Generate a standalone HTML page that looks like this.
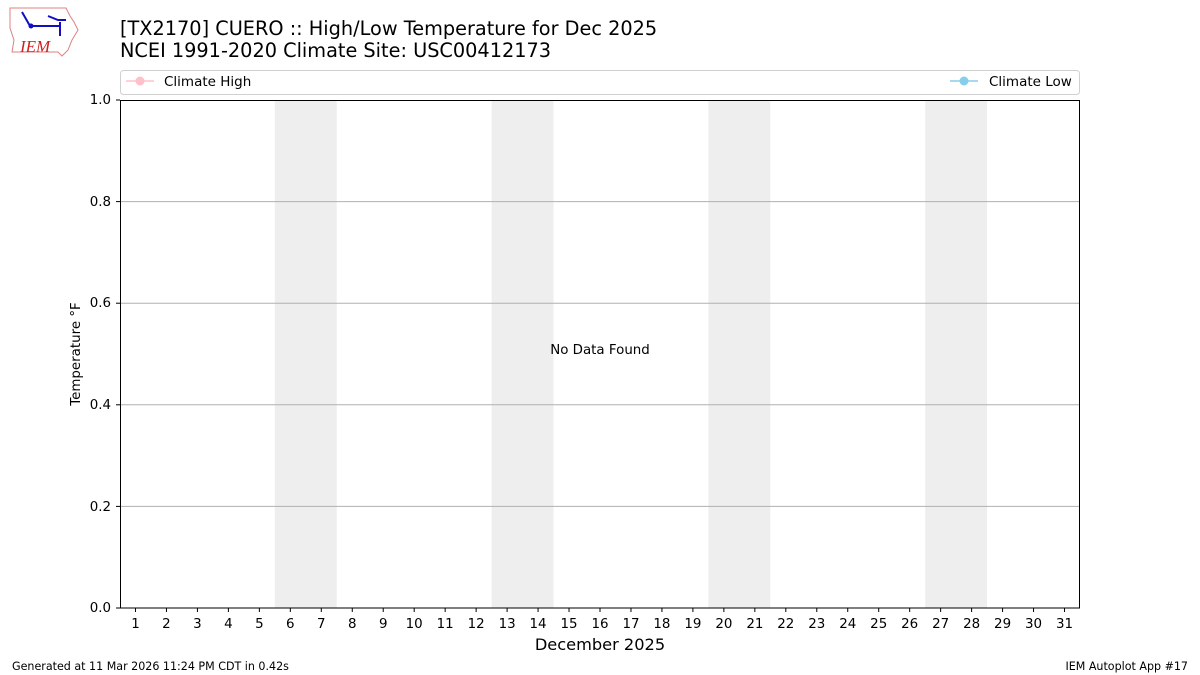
<!DOCTYPE html>
<html><head><style>body{margin:0;background:#fff}svg{display:block}</style></head>
<body>
<svg width="1200" height="675" xmlns="http://www.w3.org/2000/svg" font-family="DejaVu Sans, Liberation Sans, sans-serif">
<rect width="1200" height="675" fill="#fff"/>
<path d="M10 8 L66 8 L70 16 L74 22 L78 30 L72 40 L68 50 L62 56 L58 52 L12 52 L14 40 L10 28 Z" fill="none" stroke="#e08080" stroke-width="1"/>
<path d="M22 12 L30 26 M30 26 L60 26 M48 16 L58 20 L66 20 M60 22 L60 36" stroke="#1010c0" stroke-width="2" fill="none"/>
<circle cx="31" cy="26" r="2.5" fill="#1010c0"/>
<text x="20" y="52" font-family="Liberation Serif, serif" font-style="italic" font-size="17" fill="#d02020">IEM</text>
<text x="120" y="35" font-size="19.3" fill="#000">[TX2170] CUERO :: High/Low Temperature for Dec 2025</text>
<text x="120" y="57" font-size="19.3" fill="#000">NCEI 1991-2020 Climate Site: USC00412173</text>
<rect x="120.5" y="70.5" width="959" height="24" rx="3" fill="#fff" stroke="#d0d0d0"/>
<line x1="126" y1="81" x2="154" y2="81" stroke="pink" stroke-width="1.5"/><circle cx="140" cy="81" r="4.5" fill="pink"/>
<text x="164" y="86" font-size="13.5">Climate High</text>
<line x1="950" y1="81" x2="978" y2="81" stroke="skyblue" stroke-width="1.5"/><circle cx="964" cy="81" r="4.5" fill="skyblue"/>
<text x="989" y="86" font-size="13.5">Climate Low</text>
<g fill="#eeeeee">
<rect x="274.8" y="100" width="61.9" height="508"/>
<rect x="491.6" y="100" width="61.9" height="508"/>
<rect x="708.4" y="100" width="61.9" height="508"/>
<rect x="925.2" y="100" width="61.9" height="508"/>
</g>
<g stroke="#b0b0b0" stroke-width="1">
<line x1="120" y1="201.6" x2="1080" y2="201.6"/>
<line x1="120" y1="303.2" x2="1080" y2="303.2"/>
<line x1="120" y1="404.8" x2="1080" y2="404.8"/>
<line x1="120" y1="506.4" x2="1080" y2="506.4"/>
</g>
<rect x="120.5" y="100.5" width="959" height="507.5" fill="none" stroke="#000" stroke-width="1"/>
<g font-size="13.4" text-anchor="end">
<text x="111" y="612">0.0</text><text x="111" y="511">0.2</text><text x="111" y="409">0.4</text>
<text x="111" y="307">0.6</text><text x="111" y="206">0.8</text><text x="111" y="104">1.0</text>
</g>
<g stroke="#000"><line x1="116" y1="608" x2="120" y2="608"/><line x1="116" y1="506.4" x2="120" y2="506.4"/><line x1="116" y1="404.8" x2="120" y2="404.8"/><line x1="116" y1="303.2" x2="120" y2="303.2"/><line x1="116" y1="201.6" x2="120" y2="201.6"/><line x1="116" y1="100" x2="120" y2="100"/></g>
<g id="xt" font-size="13.4" text-anchor="middle"></g>
<text x="80" y="354" font-size="13.4" text-anchor="middle" transform="rotate(-90 80 354)">Temperature °F</text>
<text x="600" y="650" font-size="16.2" text-anchor="middle">December 2025</text>
<text x="600" y="354" font-size="13.4" text-anchor="middle">No Data Found</text>
<text x="12" y="670" font-size="11.1">Generated at 11 Mar 2026 11:24 PM CDT in 0.42s</text>
<text x="1188" y="670" font-size="11.1" text-anchor="end">IEM Autoplot App #17</text>
</svg>
<script>
var g=document.getElementById('xt'),s='';
for(var d=1;d<=31;d++){var x=120+(d-0.5)*960/31;
s+='<line x1="'+x+'" y1="608" x2="'+x+'" y2="612" stroke="#000"/><text x="'+x+'" y="628">'+d+'</text>';}
g.innerHTML=s;
</script>
</body></html>
